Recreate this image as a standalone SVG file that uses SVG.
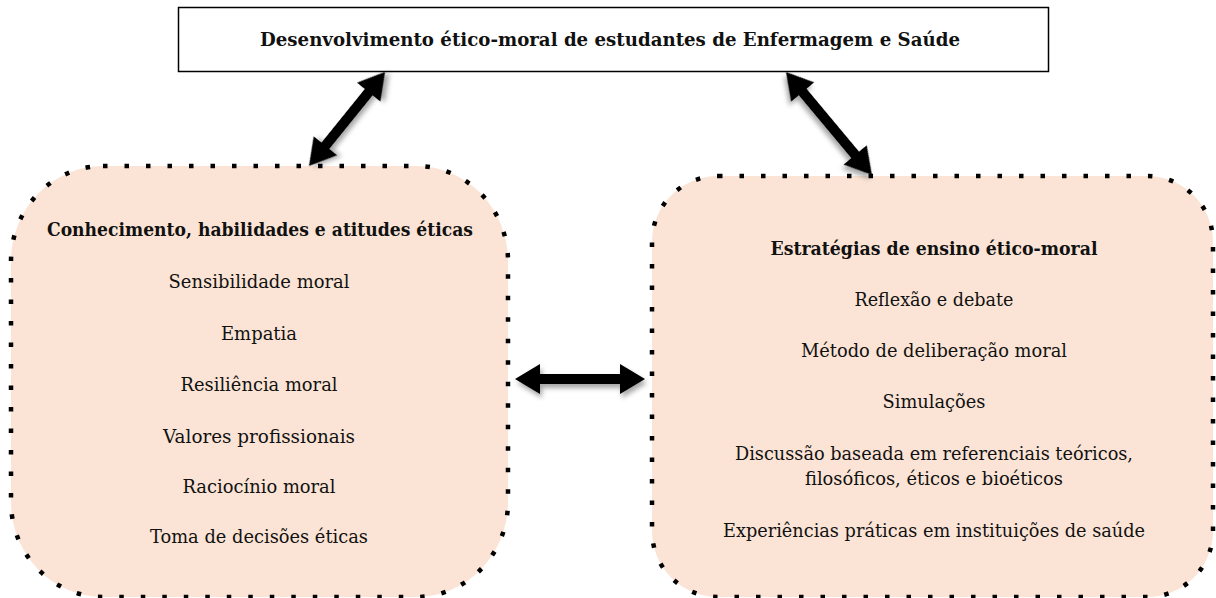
<svg xmlns="http://www.w3.org/2000/svg" width="1216" height="598" viewBox="0 0 1216 598">
<defs>
<style>
.box{fill:#FBE4D5;stroke:#000;stroke-width:4.5;stroke-dasharray:4.5 17;}
.t{font-family:"DejaVu Serif","Liberation Serif",serif;font-size:19px;fill:#111;text-anchor:middle;}
.b{font-weight:bold;font-size:18px;}
.arr{fill:#000;filter:url(#sh);}
</style>
<filter id="sh" x="-30%" y="-30%" width="160%" height="160%">
<feDropShadow dx="2" dy="4" stdDeviation="2.5" flood-color="#000" flood-opacity="0.35"/>
</filter>
</defs>
<g id="top">
<rect x="178.5" y="7.5" width="870" height="64" fill="#fff" stroke="#000" stroke-width="1.5"/>
<text class="t b" x="610" y="46" textLength="700" lengthAdjust="spacingAndGlyphs">Desenvolvimento ético-moral de estudantes de Enfermagem e Saúde</text>
</g>
<g id="left">
<rect class="box" x="11" y="166" width="497" height="431" rx="92" ry="95"/>
<text class="t b" x="260" y="236" textLength="426" lengthAdjust="spacingAndGlyphs">Conhecimento, habilidades e atitudes éticas</text>
<text class="t" x="259" y="288" textLength="181" lengthAdjust="spacingAndGlyphs">Sensibilidade moral</text>
<text class="t" x="259" y="340" textLength="76" lengthAdjust="spacingAndGlyphs">Empatia</text>
<text class="t" x="259" y="391" textLength="157" lengthAdjust="spacingAndGlyphs">Resiliência moral</text>
<text class="t" x="259" y="443" textLength="192" lengthAdjust="spacingAndGlyphs">Valores profissionais</text>
<text class="t" x="259" y="493" textLength="153" lengthAdjust="spacingAndGlyphs">Raciocínio moral</text>
<text class="t" x="259" y="543" textLength="218" lengthAdjust="spacingAndGlyphs">Toma de decisões éticas</text>
</g>
<g id="right">
<rect class="box" x="652" y="176" width="561" height="421" rx="66" ry="66"/>
<text class="t b" x="934" y="255" textLength="327" lengthAdjust="spacingAndGlyphs">Estratégias de ensino ético-moral</text>
<text class="t" x="934" y="306" textLength="159" lengthAdjust="spacingAndGlyphs">Reflexão e debate</text>
<text class="t" x="934" y="357" textLength="266" lengthAdjust="spacingAndGlyphs">Método de deliberação moral</text>
<text class="t" x="934" y="408" textLength="103" lengthAdjust="spacingAndGlyphs">Simulações</text>
<text class="t" x="934" y="460" textLength="398" lengthAdjust="spacingAndGlyphs">Discussão baseada em referenciais teóricos,</text>
<text class="t" x="934" y="485" textLength="258" lengthAdjust="spacingAndGlyphs">filosóficos, éticos e bioéticos</text>
<text class="t" x="934" y="537" textLength="422" lengthAdjust="spacingAndGlyphs">Experiências práticas em instituições de saúde</text>
</g>
<g id="connectors">
<polygon class="arr" transform="translate(515,379)" points="0,0 25,-15 25,-5 105,-5 105,-15 130,0 105,15 105,5 25,5 25,15"/>
<polygon class="arr" transform="translate(309,166) rotate(-51.05)" points="0,0 26,-15 26,-5 95,-5 95,-15 121,0 95,15 95,5 26,5 26,15"/>
<polygon class="arr" transform="translate(786,72) rotate(50.14)" points="0,0 26,-15 26,-5 108,-5 108,-15 134,0 108,15 108,5 26,5 26,15"/>
</g>
</svg>
